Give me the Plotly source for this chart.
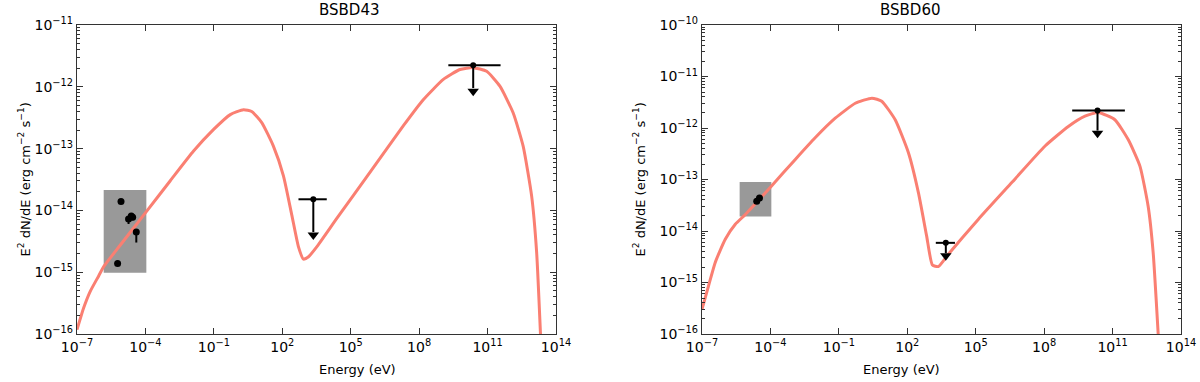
import plotly.graph_objects as go
import numpy as np

# ---------------- data (log10 values) ----------------
# BSBD43 model curve
l_logE = [-7, -6.71, -6.42, -6.05, -5.83, -5.10, -3.96, -2.91, -1.89, -1.01, -0.28, 0.30, 0.66,
          1.10, 1.61, 2.05, 2.42, 2.71, 2.93, 3.15, 3.51, 4.39, 5.85, 7.31, 8.18, 9.06, 9.79,
          10.37, 10.96, 11.54, 12.12, 12.56, 12.93, 13.15, 13.32]
l_logF = [-15.93, -15.58, -15.31, -15.06, -14.91, -14.56, -14.02, -13.52, -13.04, -12.69, -12.45,
          -12.37, -12.40, -12.58, -12.96, -13.44, -14.08, -14.59, -14.79, -14.75, -14.59, -14.13,
          -13.38, -12.63, -12.21, -11.88, -11.72, -11.69, -11.75, -11.99, -12.42, -12.96, -13.76,
          -14.67, -16.0]
# BSBD43 optical/UV box (log E range, log F range)
l_box_E = [-5.83, -3.96]
l_box_F = [-15.01, -13.67]
# BSBD43 data points
l_pts_E = [-5.07, -5.22, -4.74, -4.62, -4.56, -4.40]
l_pts_F = [-13.855, -14.86, -14.14, -14.09, -14.11, -14.35]
l_pts_errlo = [0, 0, 0.08, 0.05, 0.05, 0.17]
l_pts_errhi = [0, 0, 0.0, 0.0, 0.0, 0.0]
# BSBD43 upper limits: centre, low/high energy, flux, arrow end
l_ul_E = [3.36, 10.37]
l_ul_Elo = [2.71, 9.28]
l_ul_Ehi = [3.95, 11.57]
l_ul_F = [-13.82, -11.65]
l_ul_Fend = [-14.40, -12.07]

# BSBD60 model curve
r_logE = [-7, -6.71, -6.42, -5.98, -5.54, -5.10, -3.96, -2.91, -2.04, -1.16, -0.28, 0.45, 0.88,
          1.47, 2.05, 2.49, 2.85, 3.10, 3.36, 3.80, 5.12, 6.58, 8.04, 9.06, 9.79, 10.37, 11.10,
          11.69, 12.20, 12.56, 12.78, 13.0]
r_logF = [-15.52, -15.06, -14.61, -14.16, -13.87, -13.68, -13.13, -12.61, -12.19, -11.81, -11.52,
          -11.42, -11.48, -11.84, -12.48, -13.26, -14.10, -14.66, -14.69, -14.45, -13.77, -13.06,
          -12.35, -11.97, -11.77, -11.70, -11.84, -12.23, -12.74, -13.52, -14.42, -16.0]
r_box_E = [-5.35, -3.96]
r_box_F = [-13.72, -13.05]
r_pts_E = [-4.60, -4.48]
r_pts_F = [-13.42, -13.36]
r_ul_E = [3.69, 10.34]
r_ul_Elo = [3.25, 9.23]
r_ul_Ehi = [4.09, 11.54]
r_ul_F = [-14.23, -11.66]
r_ul_Fend = [-14.48, -12.10]

titles = ["BSBD43", "BSBD60"]
x_tick_exp = [-7, -4, -1, 2, 5, 8, 11, 14]
y_tick_exp = [[-16, -15, -14, -13, -12, -11], [-16, -15, -14, -13, -12, -11, -10]]

# ---------------- styles ----------------
CURVE = "#FA7F72"
BOX = "#999999"
FONT = "DejaVu Sans"

fig = go.Figure()
p = lambda a: [10.0 ** v for v in a]


def add_panel(idx, logE, logF, boxE, boxF, ptsE, ptsF, errlo, errhi, ulE, ulElo, ulEhi, ulF, ulFend):
    xa = "x" if idx == 0 else "x2"
    ya = "y" if idx == 0 else "y2"
    bx = [boxE[0], boxE[1], boxE[1], boxE[0], boxE[0]]
    by = [boxF[0], boxF[0], boxF[1], boxF[1], boxF[0]]
    fig.add_trace(go.Scatter(x=p(bx), y=p(by), fill="toself", fillcolor=BOX, mode="lines",
                             line=dict(color=BOX, width=0), xaxis=xa, yaxis=ya, hoverinfo="skip"))
    fig.add_trace(go.Scatter(x=p(logE), y=p(logF), mode="lines", line=dict(color=CURVE, width=3,
                             shape="spline", smoothing=0.5), xaxis=xa, yaxis=ya))
    # data points
    ey = dict(type="data", symmetric=False,
              array=[10 ** (f + h) - 10 ** f for f, h in zip(ptsF, errhi)],
              arrayminus=[10 ** f - 10 ** (f - l) for f, l in zip(ptsF, errlo)],
              color="black", thickness=2, width=0) if errlo else None
    fig.add_trace(go.Scatter(x=p(ptsE), y=p(ptsF), mode="markers",
                             marker=dict(color="black", size=7), error_y=ey, xaxis=xa, yaxis=ya))
    # upper limits
    for e, elo, ehi, f, fend in zip(ulE, ulElo, ulEhi, ulF, ulFend):
        fig.add_trace(go.Scatter(x=[10 ** elo, 10 ** ehi], y=[10 ** f, 10 ** f], mode="lines",
                                 line=dict(color="black", width=2), xaxis=xa, yaxis=ya))
        fig.add_trace(go.Scatter(x=[10 ** e, 10 ** e], y=[10 ** f, 10 ** (fend + 0.05)], mode="lines",
                                 line=dict(color="black", width=2), xaxis=xa, yaxis=ya))
        fig.add_trace(go.Scatter(x=[10 ** e], y=[10 ** f], mode="markers",
                                 marker=dict(color="black", size=6), xaxis=xa, yaxis=ya))
        fig.add_trace(go.Scatter(x=[10 ** e], y=[10 ** fend], mode="markers",
                                 marker=dict(color="black", size=10, symbol="triangle-down"),
                                 xaxis=xa, yaxis=ya))


add_panel(0, l_logE, l_logF, l_box_E, l_box_F, l_pts_E, l_pts_F, l_pts_errlo, l_pts_errhi,
          l_ul_E, l_ul_Elo, l_ul_Ehi, l_ul_F, l_ul_Fend)
add_panel(1, r_logE, r_logF, r_box_E, r_box_F, r_pts_E, r_pts_F, None, None,
          r_ul_E, r_ul_Elo, r_ul_Ehi, r_ul_F, r_ul_Fend)

W, H = 1200, 382
xdom = [[77 / W, 556 / W], [702 / W, 1181 / W]]
ydom = [(H - 334) / H, (H - 25) / H]


def sup(e):
    s = str(e).replace("-", "\u2212")
    return f"10<sup>{s}</sup>"


def minor_vals(lo, hi):
    return [m * 10.0 ** k for k in range(lo, hi) for m in range(2, 10)]


common = dict(type="log", showgrid=False, zeroline=False, showline=True, linecolor="#333333",
              linewidth=1.3, mirror="allticks", ticks="inside", ticklen=6, tickwidth=1,
              tickcolor="#333333", automargin=False,
              tickfont=dict(family=FONT, size=14, color="black"))

for i in range(2):
    sfx = "" if i == 0 else "2"
    ye = y_tick_exp[i]
    fig.update_layout({
        f"xaxis{sfx}": dict(common, domain=xdom[i], range=[-7, 14], anchor=f"y{sfx}",
                            tickmode="array", tickvals=[10.0 ** e for e in x_tick_exp],
                            ticktext=[sup(e) for e in x_tick_exp]),
        f"yaxis{sfx}": dict(common, domain=ydom, range=[ye[0], ye[-1]], anchor=f"x{sfx}",
                            tickmode="array", tickvals=[10.0 ** e for e in ye],
                            ticktext=[sup(e) for e in ye],
                            minor=dict(ticks="inside", ticklen=3, tickcolor="#333333",
                                       tickmode="array", tickvals=minor_vals(ye[0], ye[-1]))),
    })

annots = []
for i in range(2):
    cx = (xdom[i][0] + xdom[i][1]) / 2
    annots.append(dict(text=titles[i], x=cx, y=(H - 21) / H, yanchor="bottom", xref="paper",
                       yref="paper", showarrow=False,
                       font=dict(family=FONT, size=15, color="black")))
    annots.append(dict(text="Energy (eV)", x=cx, y=(H - 360) / H, yanchor="top", xref="paper",
                       yref="paper", showarrow=False,
                       font=dict(family=FONT, size=13, color="black")))
    annots.append(dict(text="E<sup>2</sup> dN/dE (erg cm<sup>\u22122</sup> s<sup>\u22121</sup>)",
                       x=(14 if i == 0 else 639) / W, y=(ydom[0] + ydom[1]) / 2, xref="paper",
                       yref="paper", textangle=-90, showarrow=False,
                       font=dict(family=FONT, size=13, color="black")))

fig.update_layout(width=W, height=H, margin=dict(l=0, r=0, t=0, b=0), showlegend=False,
                  plot_bgcolor="white", paper_bgcolor="white", annotations=annots)

fig.write_html("out.html", config={"displayModeBar": False},
               post_script="document.body.style.margin='0';document.body.style.padding='0';")
